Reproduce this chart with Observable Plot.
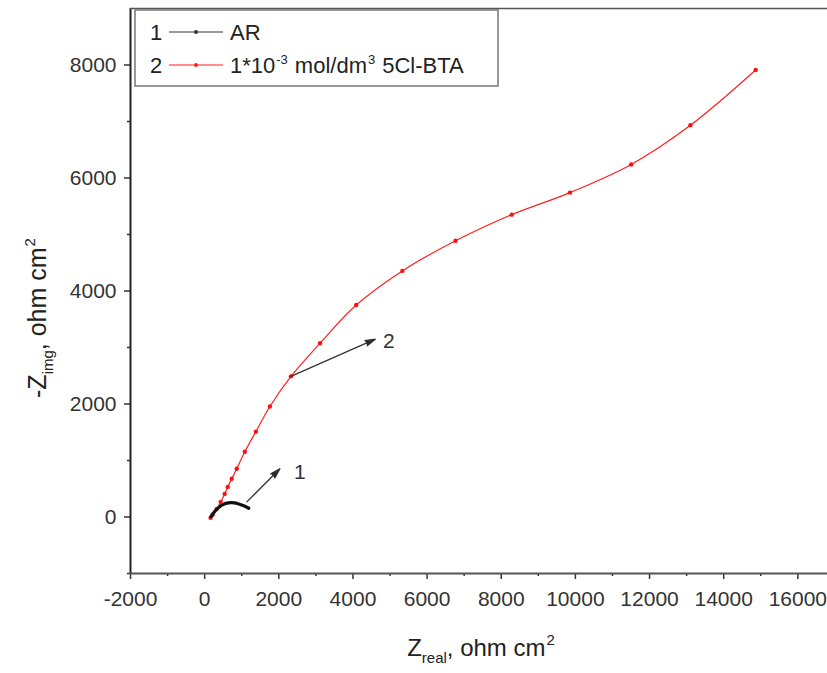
<!DOCTYPE html>
<html>
<head>
<meta charset="utf-8">
<script src="https://cdn.jsdelivr.net/npm/d3@7"></script>
<script src="https://cdn.jsdelivr.net/npm/@observablehq/plot@0.6"></script>
<style>
  html, body { margin: 0; padding: 0; background: #fff; }
  #chart { width: 827px; height: 673px; }
</style>
</head>
<body>
<div id="chart"></div>
<script>
// Series 1: AR
const arReal = [170, 250, 330, 420, 510, 600, 700, 800, 900, 1000, 1100, 1190];
const arImg  = [5, 80, 140, 190, 225, 245, 254, 250, 235, 212, 185, 155];
// Series 2: 1*10^-3 mol/dm3 5Cl-BTA
const btaReal = [160, 215, 325, 433, 541, 623, 731, 866, 1083, 1381, 1760, 2328, 3113, 4088, 5333, 6768, 8284, 9854, 11505, 13102, 14862];
const btaImg  = [-15, 40, 142, 267, 409, 533, 676, 853, 1156, 1511, 1956, 2489, 3076, 3751, 4356, 4889, 5351, 5742, 6240, 6933, 7911];
// Annotation arrows
const arrowLabels = ["1", "2"];
const arrowX1 = [1137, 2328];
const arrowY1 = [267, 2489];
const arrowX2 = [2030, 4602];
const arrowY2 = [853, 3147];
const arrowTextX = [2300, 4700];
const arrowTextY = [800, 3110];
// Ticks
const xMajor = [-2000, 0, 2000, 4000, 6000, 8000, 10000, 12000, 14000, 16000];
const xMinor = [-1000, 1000, 3000, 5000, 7000, 9000, 11000, 13000, 15000];
const yMajor = [0, 2000, 4000, 6000, 8000];
const yMinor = [-1000, 1000, 3000, 5000, 7000];

const ar = arReal.map((x, i) => ({x, y: arImg[i]}));
const bta = btaReal.map((x, i) => ({x, y: btaImg[i]}));
const arrows = arrowLabels.map((l, i) => ({l, x1: arrowX1[i], y1: arrowY1[i], x2: arrowX2[i], y2: arrowY2[i], tx: arrowTextX[i], ty: arrowTextY[i]}));

const axisColor = "#333";
const FONT = "Liberation Sans, Arial, sans-serif";
const plot = Plot.plot({
  width: 827,
  height: 673,
  marginLeft: 130,
  marginRight: 0,
  marginTop: 8,
  marginBottom: 100,
  style: {fontFamily: FONT, fontSize: "21px", color: "#333", background: "#fff"},
  x: {domain: [-2000, 16800]},
  y: {domain: [-1000, 9000]},
  marks: [
    Plot.axisX({ticks: xMajor, tickSize: 6, tickPadding: 12, tickFormat: d => String(d), label: null, stroke: axisColor, strokeWidth: 1.5}),
    Plot.axisX({ticks: xMinor, tickSize: 3, tickFormat: () => "", label: null, stroke: axisColor, strokeWidth: 1.5}),
    Plot.axisY({ticks: yMajor, tickSize: 6, tickPadding: 8, tickFormat: d => String(d), label: null, stroke: axisColor, strokeWidth: 1.5}),
    Plot.axisY({ticks: yMinor, tickSize: 3, tickFormat: () => "", label: null, stroke: axisColor, strokeWidth: 1.5}),
    Plot.ruleX([-2000], {stroke: "#222", strokeWidth: 2}),
    Plot.ruleY([-1000], {stroke: "#555", strokeWidth: 2}),
    Plot.ruleY([9000], {stroke: "#555", strokeWidth: 1.5}),
    Plot.line(bta, {x: "x", y: "y", stroke: "#ff2020", strokeWidth: 1.2, curve: "catmull-rom"}),
    Plot.dot(bta, {x: "x", y: "y", r: 2.2, fill: "#ff1010"}),
    Plot.line(ar, {x: "x", y: "y", stroke: "#111", strokeWidth: 3.2, curve: "catmull-rom"}),
    Plot.arrow(arrows, {x1: "x1", y1: "y1", x2: "x2", y2: "y2", stroke: "#333", fill: "#222", strokeWidth: 1.3, headLength: 12, headAngle: 32}),
    Plot.text(arrows, {x: "tx", y: "ty", text: "l", fontSize: 21, fill: "#333", textAnchor: "start", dx: 4})
  ]
});
document.getElementById("chart").appendChild(plot);

const svg = d3.select(plot);
// Legend box
const lg = svg.append("g").attr("font-family", FONT).attr("font-size", 22).attr("fill", "#222").attr("text-anchor", "start");
lg.append("rect").attr("x", 135).attr("y", 10).attr("width", 363).attr("height", 76)
  .attr("fill", "#fff").attr("stroke", "#777").attr("stroke-width", 1.5);
const rows = [
  {n: "1", color: "#333", y: 32},
  {n: "2", color: "#ff2020", y: 65}
];
rows.forEach(r => {
  lg.append("text").attr("x", 150).attr("y", r.y + 8).text(r.n);
  lg.append("line").attr("x1", 169).attr("x2", 223).attr("y1", r.y).attr("y2", r.y).attr("stroke", r.color).attr("stroke-width", 1.2);
  lg.append("circle").attr("cx", 196).attr("cy", r.y).attr("r", 2).attr("fill", r.color);
});
lg.append("text").attr("x", 230).attr("y", 40).text("AR");
const t2 = lg.append("text").attr("x", 230).attr("y", 73);
t2.append("tspan").text("1*10");
t2.append("tspan").attr("font-size", 13).attr("dy", -9).attr("dx", 1).text("-3");
t2.append("tspan").attr("dy", 9).attr("dx", 7).text("mol/dm");
t2.append("tspan").attr("font-size", 13).attr("dy", -9).attr("dx", 1).text("3");
t2.append("tspan").attr("dy", 9).attr("dx", 7).text("5Cl-BTA");

// Axis titles
const xt = svg.append("text").attr("x", 481).attr("y", 656).attr("text-anchor", "middle")
  .attr("font-family", FONT).attr("font-size", 24).attr("fill", "#222");
xt.append("tspan").text("Z");
xt.append("tspan").attr("font-size", 15).attr("dy", 7).text("real");
xt.append("tspan").attr("dy", -7).text(", ohm cm");
xt.append("tspan").attr("font-size", 15).attr("dy", -11).attr("dx", 1).text("2");

const yt = svg.append("text").attr("transform", "translate(46,318) rotate(-90)").attr("text-anchor", "middle")
  .attr("font-family", FONT).attr("font-size", 25).attr("fill", "#222");
yt.append("tspan").text("-Z");
yt.append("tspan").attr("font-size", 15).attr("dy", 7).text("img");
yt.append("tspan").attr("dy", -7).text(", ohm cm");
yt.append("tspan").attr("font-size", 15).attr("dy", -11).attr("dx", 1).text("2");
</script>
</body>
</html>
